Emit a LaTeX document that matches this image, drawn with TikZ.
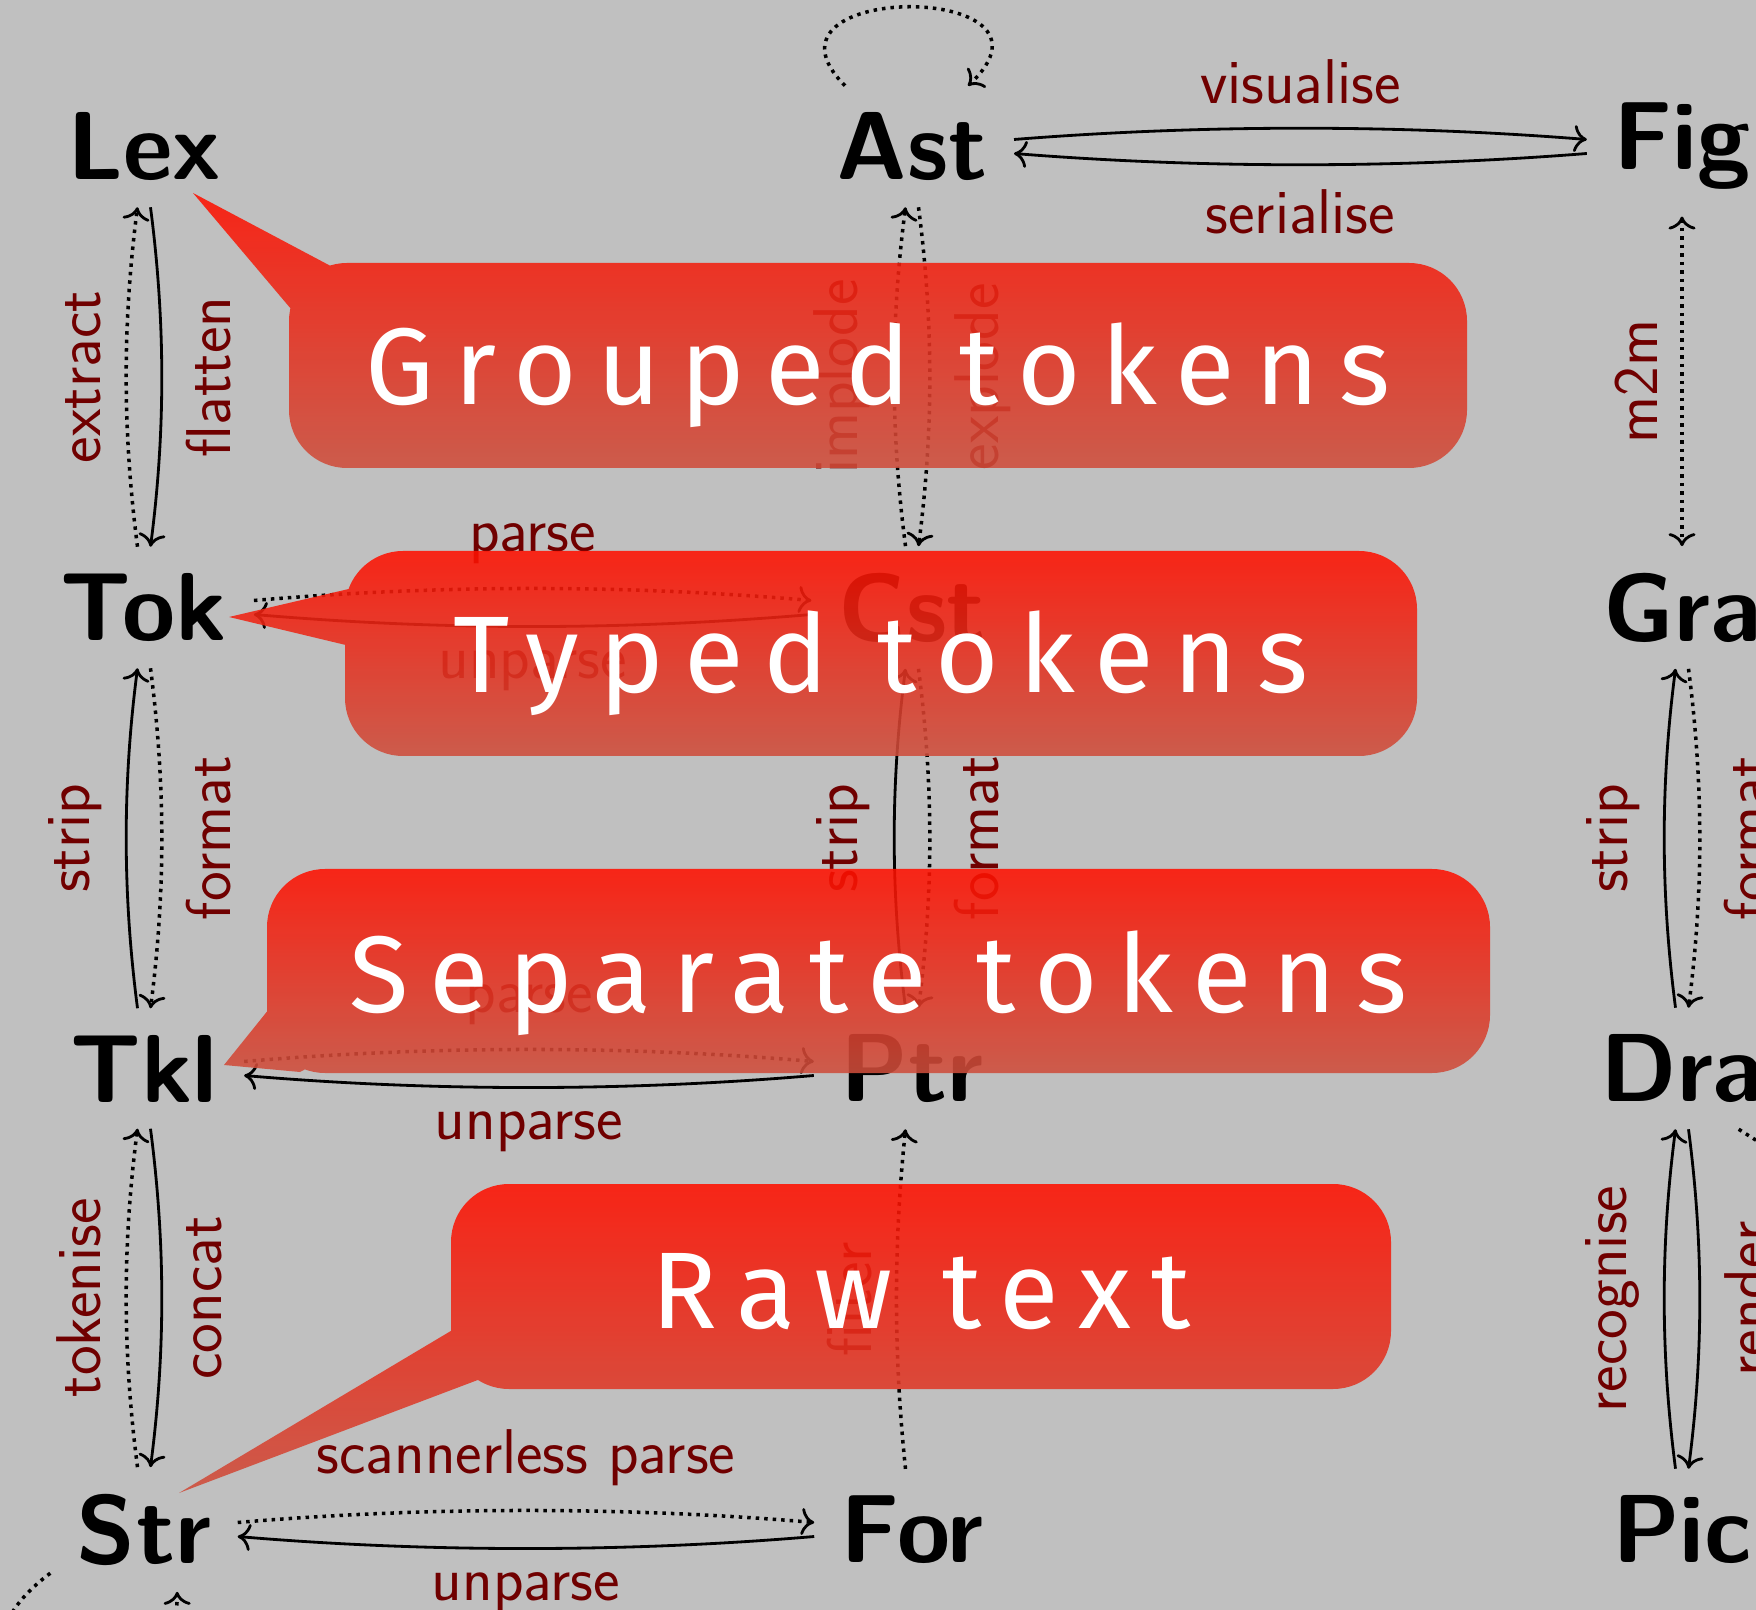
\documentclass[tikz,border=0pt]{standalone}
\usepackage{fontspec}
\newfontfamily\calloutfont[LetterSpace=18.5]{Fira Sans}
\usetikzlibrary{arrows.meta}

\definecolor{canvas}{RGB}{192,192,192}
\definecolor{labelred}{RGB}{112,0,0}
\definecolor{callouttop}{RGB}{255,16,0}
\definecolor{calloutbottom}{RGB}{206,78,60}

\begin{document}
\begin{tikzpicture}[x=0.1mm, y=0.1mm,
  >={Computer Modern Rightarrow[length=1.3mm,width=2.7mm,line width=0.8pt]},
  state/.style={font=\sffamily\bfseries\fontsize{27.5}{33}\selectfont, inner sep=2.6mm},
  lbl/.style={font=\sffamily\fontsize{18}{22}\selectfont, text=labelred, inner sep=2.3mm},
  vleft/.style={lbl, rotate=90, anchor=south},
  vright/.style={lbl, rotate=90, anchor=north},
  hup/.style={lbl, anchor=south},
  hdown/.style={lbl, anchor=north},
  edge/.style={line width=0.8pt},
  dots/.style={line width=1pt, dash pattern=on 0.35mm off 0.5mm},
  solidarr/.style={edge, ->},
  dotarr/.style={edge, dots, ->},
  callout/.style={top color=callouttop, bottom color=calloutbottom, opacity=0.88},
  callouttext/.style={text=white, font=\calloutfont\fontsize{31}{37}\selectfont, anchor=base, inner sep=0pt}
]
\useasboundingbox (0,0) rectangle (1756,-1610);
\fill[canvas] (0,0) rectangle (1756,-1610);
\clip (0,0) rectangle (1756,-1610);

% ---------- states ----------
\node[state] (Lex) at (144,-146.5)  {Lex};
\node[state] (Ast) at (912,-146.5)  {Ast};
\node[state] (Fig) at (1682,-146.5) {Fig};
\node[state] (Tok) at (144,-607.5)  {Tok};
\node[state] (Cst) at (912,-607.5)  {Cst};
\node[state] (Gra) at (1682,-607.5) {Gra};
\node[state] (Tkl) at (144,-1068.5) {Tkl};
\node[state] (Ptr) at (912,-1068.5) {Ptr};
\node[state] (Dra) at (1682,-1068.5) {Dra};
\node[state] (Str) at (144,-1529.5) {Str};
\node[state] (For) at (912,-1529.5) {For};
\node[state] (Pic) at (1682,-1529.5) {Pic};
\coordinate (draOut) at (1800,-1168);

% ---------- first column ----------
\draw[dotarr] ([xshift=-0.65mm]Tok.north) .. controls +(-15,115) and +(-15,-115) .. ([xshift=-0.65mm]Lex.south) node[vleft,pos=0.5] {extract};
\draw[solidarr] ([xshift=0.65mm]Lex.south) .. controls +(15,-115) and +(15,115) .. ([xshift=0.65mm]Tok.north) node[vright,pos=0.5] {flatten};
\draw[solidarr] ([xshift=-0.65mm]Tkl.north) .. controls +(-15,115) and +(-15,-115) .. ([xshift=-0.65mm]Tok.south) node[vleft,pos=0.5] {strip};
\draw[dotarr] ([xshift=0.65mm]Tok.south) .. controls +(15,-115) and +(15,115) .. ([xshift=0.65mm]Tkl.north) node[vright,pos=0.5] {format};
\draw[dotarr] ([xshift=-0.65mm]Str.north) .. controls +(-15,115) and +(-15,-115) .. ([xshift=-0.65mm]Tkl.south) node[vleft,pos=0.5] {tokenise};
\draw[solidarr] ([xshift=0.65mm]Tkl.south) .. controls +(15,-115) and +(15,115) .. ([xshift=0.65mm]Str.north) node[vright,pos=0.5] {concat};

% ---------- second column ----------
\draw[dotarr] ([xshift=-0.65mm]Cst.north) .. controls +(-15,115) and +(-15,-115) .. ([xshift=-0.65mm]Ast.south) node[vleft,pos=0.5] {implode};
\draw[dotarr] ([xshift=0.65mm]Ast.south) .. controls +(15,-115) and +(15,115) .. ([xshift=0.65mm]Cst.north) node[vright,pos=0.5] {explode};
\draw[solidarr] ([xshift=-0.65mm]Ptr.north) .. controls +(-15,115) and +(-15,-115) .. ([xshift=-0.65mm]Cst.south) node[vleft,pos=0.5] {strip};
\draw[dotarr] ([xshift=0.65mm]Cst.south) .. controls +(15,-115) and +(15,115) .. ([xshift=0.65mm]Ptr.north) node[vright,pos=0.5] {format};
\draw[dotarr] ([xshift=-0.65mm]For.north) .. controls +(-12,115) and +(-12,-115) .. ([xshift=-0.65mm]Ptr.south) node[vleft,pos=0.5] {filter};

% ---------- third column ----------
\draw[edge, dots, <->] (Fig.south) -- (Gra.north) node[vleft,pos=0.5] {m2m};
\draw[solidarr] ([xshift=-0.65mm]Dra.north) .. controls +(-15,115) and +(-15,-115) .. ([xshift=-0.65mm]Gra.south) node[vleft,pos=0.5] {strip};
\draw[dotarr] ([xshift=0.65mm]Gra.south) .. controls +(15,-115) and +(15,115) .. ([xshift=0.65mm]Dra.north) node[vright,pos=0.5] {format};
\draw[solidarr] ([xshift=-0.65mm]Pic.north) .. controls +(-15,115) and +(-15,-115) .. ([xshift=-0.65mm]Dra.south) node[vleft,pos=0.5] {recognise};
\draw[solidarr] ([xshift=0.65mm]Dra.south) .. controls +(15,-115) and +(15,115) .. ([xshift=0.65mm]Pic.north) node[vright,pos=0.5] {render};
\draw[edge, dots] (Dra.-47) -- (draOut);

% ---------- rows ----------
\draw[solidarr] ([yshift=0.7mm]Ast.east) .. controls +(188,15) and +(-188,15) .. ([yshift=0.7mm]Fig.west) node[hup,pos=0.5] {visualise};
\draw[solidarr] ([yshift=-0.7mm]Fig.west) .. controls +(-188,-15) and +(188,-15) .. ([yshift=-0.7mm]Ast.east) node[hdown,pos=0.5] {serialise};
\draw[dotarr] ([yshift=0.7mm]Tok.east) .. controls +(188,16) and +(-188,16) .. ([yshift=0.7mm]Cst.west) node[hup,pos=0.5] {parse};
\draw[solidarr] ([yshift=-0.7mm]Cst.west) .. controls +(-188,-16) and +(188,-16) .. ([yshift=-0.7mm]Tok.east) node[hdown,pos=0.5] {unparse};
\draw[dotarr] ([yshift=0.7mm]Tkl.east) .. controls +(188,16) and +(-188,16) .. ([yshift=0.7mm]Ptr.west) node[hup,pos=0.5] {parse};
\draw[solidarr] ([yshift=-0.7mm]Ptr.west) .. controls +(-188,-16) and +(188,-16) .. ([yshift=-0.7mm]Tkl.east) node[hdown,pos=0.5] {unparse};
\draw[dotarr] ([yshift=0.7mm]Str.east) .. controls +(188,16) and +(-188,16) .. ([yshift=0.7mm]For.west) node[hup,pos=0.5] {scannerless parse};
\draw[solidarr] ([yshift=-0.7mm]For.west) .. controls +(-188,-16) and +(188,-16) .. ([yshift=-0.7mm]Str.east) node[hdown,pos=0.5] {unparse};

% ---------- loops ----------
\draw[dotarr] ([xshift=-6.7mm]Ast.north) .. controls +(-105,105) and +(112,105) .. ([xshift=5.6mm]Ast.north);
\draw[dotarr] (Str.205) .. controls +(-160,-120) and +(0,-200) .. (Str.-62);

% ---------- callouts ----------
\path[callout] [rounded corners=5.8mm] (289,-263) -- (289,-468) -- (1467,-468) -- (1467,-263) -- cycle
  [sharp corners] (193,-193) -- (335,-361) -- (391,-298) -- cycle;
\node[callouttext] (grouped) at (878,-405) {Grouped tokens};

\path[callout] [rounded corners=5.8mm] (345,-551) -- (345,-756) -- (1417,-756) -- (1417,-551) -- cycle
  [sharp corners] (229,-617) -- (400,-658) -- (400,-577) -- cycle;
\node[callouttext] (typed) at (881,-693) {Typed tokens};

\path[callout] [rounded corners=5.8mm] (267,-869) -- (267,-1073) -- (1490,-1073) -- (1490,-869) -- cycle
  [sharp corners] (224,-1065) -- (300,-1072) -- (360,-1040) -- (331,-932) -- cycle;
\node[callouttext] (separate) at (878.5,-1012) {Separate tokens};

\path[callout] [rounded corners=5.8mm] (451,-1184) -- (451,-1389) -- (1391,-1389) -- (1391,-1184) -- cycle
  [sharp corners] (179,-1493) -- (565,-1347) -- (533,-1282) -- cycle;
\node[callouttext] (raw) at (921,-1328) {Raw text};
\end{tikzpicture}
\end{document}
